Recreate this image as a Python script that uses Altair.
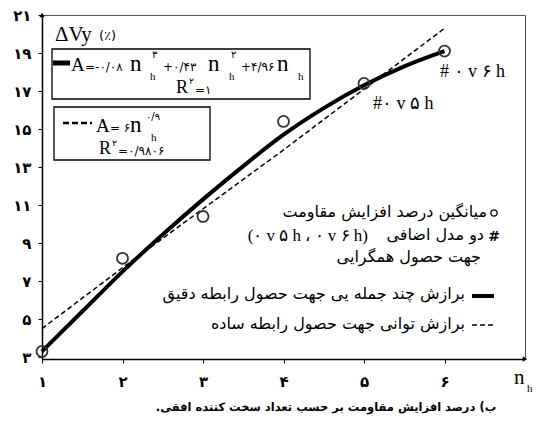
import altair as alt
import pandas as pd

# Mean increase of yield-displacement resistance vs number of horizontal stiffeners
n_points = [1, 2, 3, 4, 5, 6]
avg_increase = [3.3, 8.2, 10.4, 15.4, 17.4, 19.1]

# Polynomial fit (sampled curve)
poly_n = [1, 1.5, 2, 2.5, 3, 3.5, 4, 4.5, 5, 5.5, 6]
poly_fit = [3.3, 5.4, 7.5, 9.45, 11.3, 13.05, 14.7, 16.1, 17.3, 18.3, 19.1]

# Power fit
power_n = [1, 2, 3, 4, 5, 6]
power_fit = [4.5, 7.7, 10.8, 13.9, 17.1, 20.3]

x_ticks = [1, 2, 3, 4, 5, 6]
x_tick_labels = ["۱", "۲", "۳", "۴", "۵", "۶"]
y_ticks = [3, 5, 7, 9, 11, 13, 15, 17, 19, 21]
y_tick_labels = ["۳", "۵", "۷", "۹", "۱۱", "۱۳", "۱۵", "۱۷", "۱۹", "۲۱"]

LEFT, TOP = 42, 15
W, H = 483, 344
SERIF = "Liberation Serif"
FA = "DejaVu Sans"


def label_expr(values, labels):
    parts = [f"datum.value == {v} ? '{l}'" for v, l in zip(values, labels)]
    return " : ".join(parts) + " : ''"


x_scale = alt.Scale(domain=[1, 7], nice=False, zero=False)
y_scale = alt.Scale(domain=[2.9, 21], nice=False, zero=False)

x_axis = alt.Axis(values=x_ticks, labelExpr=label_expr(x_ticks, x_tick_labels),
                  title=None, grid=False, domainColor="black", domainWidth=1.5,
                  tickColor="black", tickSize=4, labelPadding=11, labelFont=FA,
                  labelFontSize=15, labelFontWeight="bold", labelColor="black",
                  labelFlush=False, labelOverlap=False)
y_axis = alt.Axis(values=y_ticks, labelExpr=label_expr(y_ticks, y_tick_labels),
                  title=None, grid=False, domainColor="black", domainWidth=1.5,
                  tickColor="black", tickSize=4, labelPadding=7, labelFont=FA,
                  labelFontSize=15, labelFontWeight="bold", labelColor="black",
                  labelFlush=False, labelOverlap=False)

X = alt.X("n:Q", scale=x_scale, axis=x_axis)
Y = alt.Y("v:Q", scale=y_scale, axis=y_axis)

poly_df = pd.DataFrame({"n": poly_n, "v": poly_fit})
power_df = pd.DataFrame({"n": power_n, "v": power_fit})
pts_df = pd.DataFrame({"n": n_points, "v": avg_increase})

poly_line = alt.Chart(poly_df).mark_line(color="black", strokeWidth=4,
                                         interpolate="monotone").encode(x=X, y=Y)
power_line = alt.Chart(power_df).mark_line(color="black", strokeWidth=1.5,
                                           strokeDash=[5, 3]).encode(x=X, y=Y)
points = alt.Chart(pts_df).mark_point(shape="circle", size=120, filled=False,
                                      color="#333", strokeWidth=1.8, opacity=1).encode(x=X, y=Y)

# axis arrow heads
arrow_df_y = pd.DataFrame({"n": [1], "v": [21]})
arrow_df_x = pd.DataFrame({"n": [7], "v": [2.9]})
arrow_y = alt.Chart(arrow_df_y).mark_point(shape="triangle-up", size=28, filled=True,
                                           color="black", opacity=1).encode(x=X, y=Y)
arrow_x = alt.Chart(arrow_df_x).mark_point(shape="triangle-right", size=28, filled=True,
                                           color="black", opacity=1).encode(x=X, y=Y)

one = pd.DataFrame({"k": [0]})


def txt(text, px, py, size=14, font=SERIF, align="left", baseline="alphabetic",
        weight="normal"):
    return alt.Chart(one).mark_text(text=text, align=align, baseline=baseline,
                                    fontSize=size, font=font, fontWeight=weight,
                                    color="black").encode(
        x=alt.value(px - LEFT), y=alt.value(py - TOP))


def box(x0, y0, x1, y1):
    return alt.Chart(one).mark_rect(fill="white", stroke="black", strokeWidth=1.3).encode(
        x=alt.value(x0 - LEFT), x2=alt.value(x1 - LEFT),
        y=alt.value(y0 - TOP), y2=alt.value(y1 - TOP))


def seg(x0, x1, py, width, dash=None):
    kw = dict(color="black", strokeWidth=width)
    if dash:
        kw["strokeDash"] = dash
    return alt.Chart(one).mark_rule(**kw).encode(
        x=alt.value(x0 - LEFT), x2=alt.value(x1 - LEFT), y=alt.value(py - TOP))


layers = [poly_line, power_line, points, arrow_y, arrow_x]

# equation boxes
layers += [box(52, 49, 310, 99), box(54, 107, 210, 160)]
layers += [
    seg(53, 70, 63, 5),
    txt("A", 71, 71, 19), txt("=-۰/۰۸", 85, 71, 12, FA),
    txt("n", 130, 71, 23), txt("۳", 152, 58, 10, FA), txt("h", 150, 80, 11),
    txt("+۰/۴۳", 163, 71, 12, FA),
    txt("n", 208, 71, 23), txt("۲", 231, 58, 10, FA), txt("h", 229, 80, 11),
    txt("+۴/۹۶", 241, 71, 12, FA),
    txt("n", 277, 71, 23), txt("h", 298, 80, 11),
    txt("R", 176, 93, 18), txt("۲", 189, 84, 9, FA), txt("=۱", 195, 94, 12, FA),
]
layers += [
    seg(63, 92, 123, 2.5, [6, 3]),
    txt("A", 96, 132, 19), txt("= ۶", 110, 132, 12, FA),
    txt("n", 130, 132, 23), txt("۰/۹", 146, 120, 10, FA), txt("h", 151, 141, 11),
    txt("R", 99, 154, 18), txt("۲", 112, 146, 9, FA), txt("=۰/۹۸۰۶", 118, 155, 12, FA),
]

# axis titles
layers += [
    txt("ΔVy", 55, 41, 21), txt("(٪)", 99, 40, 13, FA),
    txt("n", 514, 384, 21), txt("h", 527, 392, 11),
]

# model labels
layers += [
    txt("# ۰ v ۶ h", 440, 77, 18),
    txt("#۰ v ۵ h", 373, 109, 18),
]

# right-hand key
key_pt = pd.DataFrame({"k": [0]})
layers += [
    alt.Chart(key_pt).mark_point(shape="circle", size=40, filled=False, color="black",
                                 strokeWidth=1.3, opacity=1).encode(
        x=alt.value(494 - LEFT), y=alt.value(213 - TOP)),
    txt("میانگین درصد افزایش مقاومت", 487, 212, 16, FA, "right", "middle"),
    txt("#", 494, 237, 14, FA, "center", "middle", "bold"),
    txt("دو مدل اضافی", 484, 235, 16, FA, "right", "middle"),
    txt("(۰ v ۵ h ، ۰ v ۶ h)", 368, 236, 17, SERIF, "right", "middle"),
    txt("جهت حصول همگرایی", 481, 257, 16, FA, "right", "middle"),
    seg(472, 494, 296, 4),
    txt("برازش چند جمله یی جهت حصول رابطه دقیق", 465, 294, 16, FA, "right", "middle"),
    seg(472, 494, 325, 1.5, [5, 3]),
    txt("برازش توانی جهت حصول رابطه ساده", 465, 324, 16, FA, "right", "middle"),
]

# caption
layers += [
    txt("ب) درصد افزایش مقاومت بر حسب تعداد سخت کننده افقی.\u200f",
        326, 408, 11.5, FA, "center", "middle", "bold"),
]

chart = alt.layer(*layers).properties(
    width=W, height=H,
    autosize=alt.AutoSizeParams(type="none"),
    padding={"left": LEFT, "top": TOP, "right": 541 - LEFT - W, "bottom": 428 - TOP - H},
    background="white",
).configure_view(stroke="#555", strokeWidth=1)

chart.save("out.html", embed_options={"renderer": "svg", "actions": False})
